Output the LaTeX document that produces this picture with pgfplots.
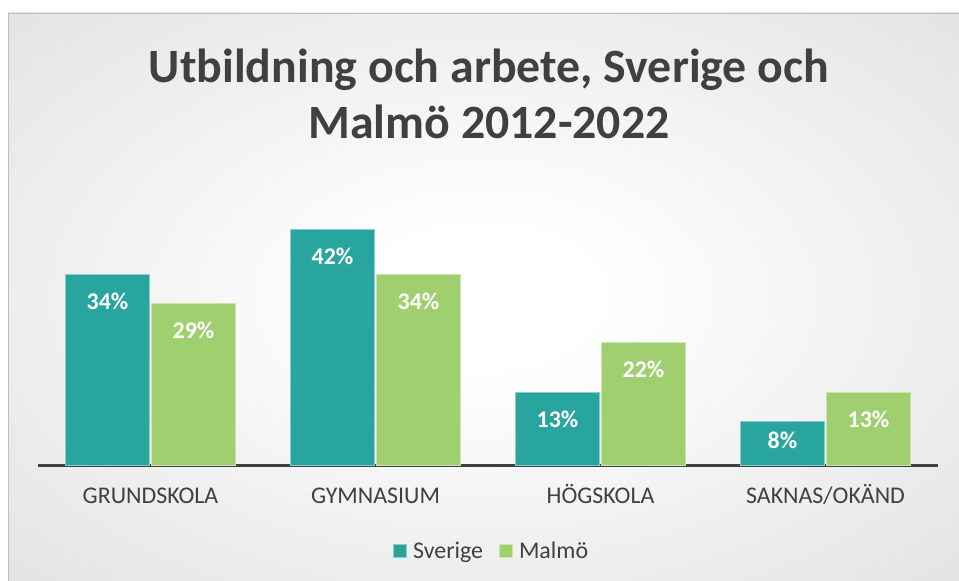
\documentclass[border=0pt]{standalone}
\usepackage{pgfplots}
\pgfplotsset{compat=1.18}
\usepackage{fontspec}
\setmainfont{Carlito}
\definecolor{cteal}{HTML}{29A59F}
\definecolor{cgreen}{HTML}{A0CF6F}
\definecolor{ctext}{HTML}{404040}
\pgfdeclareradialshading{bgshade}{\pgfpoint{0bp}{0bp}}{color(0bp)=(white); color(6bp)=(white); color(72bp)=(black!24)}

\begin{document}
\begin{tikzpicture}[x=1bp,y=1bp]
\useasboundingbox (0,0) rectangle (959,581);
\fill[white] (0,0) rectangle (959,581);
\shade[shading=bgshade] (8,0) rectangle (959,568);
\draw[black!25, line width=1.2bp] (8.5,0) -- (8.5,567.5) -- (959,567.5);
\node[font=\fontsize{48}{57}\selectfont\bfseries, text=ctext, align=center] at (489,487)
  {Utbildning och arbete, Sverige och\\Malmö 2012-2022};
\begin{axis}[
  at={(38bp,115bp)}, anchor=south west,
  width=900bp, height=281bp, scale only axis,
  ymin=0, ymax=50, xmin=-0.5, xmax=3.5,
  ybar=2bp, bar width=84bp, clip=false,
  axis x line=bottom, axis y line=none,
  x axis line style={-, line width=3bp, ctext},
  xtick={0,1,2,3},
  xticklabels={GRUNDSKOLA,GYMNASIUM,HÖGSKOLA,SAKNAS/OKÄND},
  ytick=\empty, major tick length=0,
  xticklabel style={font=\fontsize{24}{28}\selectfont, text=ctext, anchor=base, yshift=-38bp},
  /pgf/number format/assume math mode=true,
  nodes near coords={\pgfmathprintnumber{\pgfplotspointmeta}\%},
  point meta=y,
  visualization depends on={y \as \rawy},
  nodes near coords style={font=\fontsize{24}{28}\selectfont\bfseries, text=white, anchor=center,
    yshift={(\rawy<10) ? -19 : -27}},
  legend style={at={(0.504,-0.3025)}, anchor=center, draw=none, fill=none,
    legend columns=2, font=\fontsize{24}{28}\selectfont, text=ctext,
    /tikz/every even column/.append style={column sep=14bp}},
  legend image code/.code={\draw[#1] (0bp,-6.5bp) rectangle (13bp,6.5bp); \path (17bp,0bp);},
]
\addplot[fill=cteal, draw=cteal!55!white, line width=1bp]
  coordinates {(0,34) (1,42) (2,13) (3,8)};
\addplot[fill=cgreen, draw=cgreen!55!white, line width=1bp]
  coordinates {(0,29) (1,34) (2,22) (3,13)};
\legend{Sverige,Malmö}
\end{axis}
\end{tikzpicture}
\end{document}
